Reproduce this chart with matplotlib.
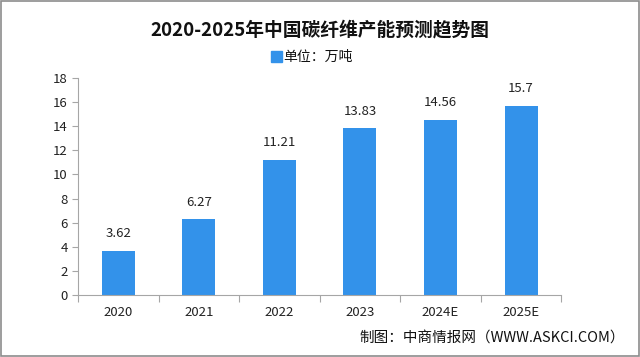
import matplotlib
matplotlib.use("Agg")
import matplotlib.pyplot as plt
from matplotlib.patches import Rectangle

plt.rcParams['font.family'] = ['Noto Sans CJK SC', 'DejaVu Sans']

# Data
years = ['2020', '2021', '2022', '2023', '2024E', '2025E']
capacity = [3.62, 6.27, 11.21, 13.83, 14.56, 15.7]
value_labels = ['3.62', '6.27', '11.21', '13.83', '14.56', '15.7']

BAR_COLOR = '#3392EA'
AXIS_COLOR = '#A6A6A6'

fig = plt.figure(figsize=(6.4, 3.57), dpi=100)
ax = fig.add_axes([0.122, 0.174, 0.755, 0.607])

x = list(range(len(years)))
ax.bar(x, capacity, width=0.41, color=BAR_COLOR, zorder=2)

for xi, v, lab in zip(x, capacity, value_labels):
    ax.text(xi, v + 0.9, lab, ha='center', va='bottom', fontsize=9.5, color='#222222')

ax.set_xlim(-0.5, len(years) - 0.5)
ax.set_ylim(0, 18)
ax.set_yticks(range(0, 19, 2))
ax.tick_params(axis='y', labelsize=9.5, colors='#222222', length=4, color=AXIS_COLOR)

# x ticks between categories, labels at centers
ax.set_xticks([i - 0.5 for i in range(len(years) + 1)])
ax.set_xticklabels([])
ax.set_xticks(x, minor=True)
ax.set_xticklabels(years, minor=True)
ax.tick_params(axis='x', which='major', length=5, color=AXIS_COLOR, direction='out')
ax.tick_params(axis='x', which='minor', length=0, labelsize=9.5, colors='#222222', pad=8)

for s in ['top', 'right']:
    ax.spines[s].set_visible(False)
for s in ['left', 'bottom']:
    ax.spines[s].set_color(AXIS_COLOR)

# Title and legend
fig.text(0.5, 0.915, '2020-2025年中国碳纤维产能预测趋势图', ha='center', va='center',
         fontsize=13.5, fontweight='bold', color='#111111')
fig.patches.append(Rectangle((0.424, 0.826), 0.016, 0.03, transform=fig.transFigure,
                             color=BAR_COLOR, figure=fig))
fig.text(0.443, 0.842, '单位：万吨', ha='left', va='center', fontsize=10, color='#111111')

# Source
fig.text(0.977, 0.055, '制图：中商情报网（WWW.ASKCI.COM）', ha='right', va='center',
         fontsize=10.5, color='#111111')

# Border
fig.patches.append(Rectangle((0.002, 0.003), 0.996, 0.994, transform=fig.transFigure,
                             fill=False, edgecolor='#8C8C8C', linewidth=1.2, figure=fig))

fig.savefig('out.png', dpi=100)
